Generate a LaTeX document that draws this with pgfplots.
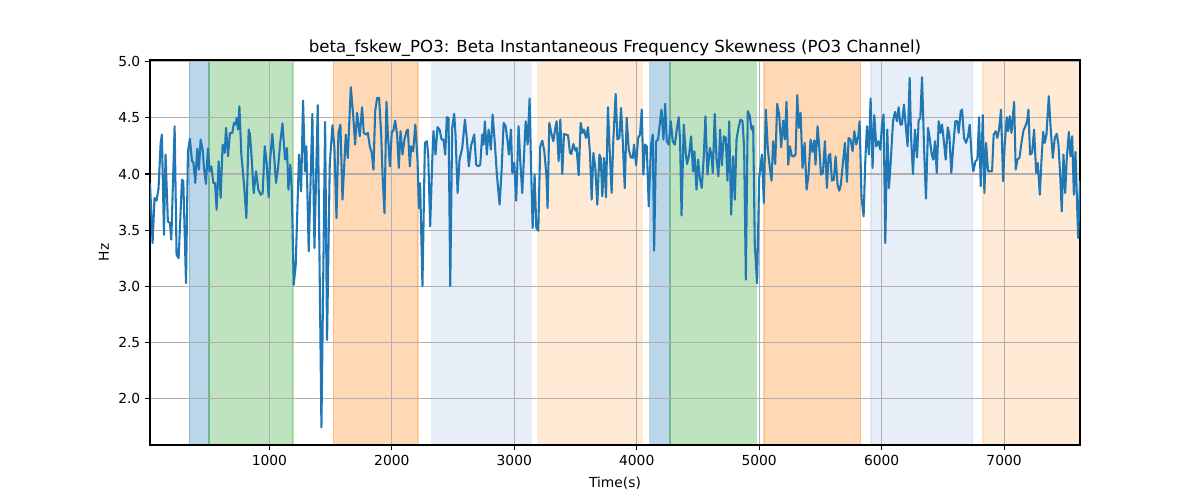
\documentclass[border=0pt]{standalone}
\usepackage{fontspec}
\setmainfont{DejaVu Sans}
\usepackage{pgfplots}
\usepackage{pgfplotstable}
\pgfplotsset{compat=1.18}
\definecolor{tabblue}{HTML}{1F77B4}
\definecolor{tabgreen}{HTML}{2CA02C}
\definecolor{taborange}{HTML}{FF7F0E}
\definecolor{lightblue}{HTML}{AEC7E8}
\definecolor{lightorange}{HTML}{FFBB78}
\definecolor{gridgray}{HTML}{B0B0B0}
\pgfplotstableread{
x y
25 3.92
46 3.384
62 3.786
79 3.762
95 3.875
112 4.277
122 4.351
139 3.458
152 4.173
171 3.577
188 3.563
199 3.414
226 4.426
242 3.280
259 3.25
286 3.949
297 3.935
319 3.027
335 4.202
351 4.315
368 4.113
379 4.107
395 3.92
411 4.226
425 4.039
438 4.307
455 4.217
466 4.054
482 3.911
498 4.226
512 4.024
526 4.068
542 3.92
556 3.92
569 3.682
586 4.113
602 3.786
618 4.262
635 4.188
646 4.411
662 4.158
678 4.366
697 4.366
711 4.455
725 4.44
733 4.5
744 4.396
755 4.604
771 4.173
793 3.905
812 3.607
831 4.396
842 4.351
855 4.143
872 3.830
891 4.024
910 3.86
929 3.815
945 3.83
962 4.247
978 4.098
994 3.792
1005 4.113
1024 4.357
1038 4.173
1054 3.92
1071 4.054
1087 4.262
1107 4.45
1128 4.128
1144 4.232
1155 3.86
1171 4.083
1182 3.875
1199 3.012
1215 3.19
1242 4.173
1259 3.845
1275 4.655
1291 4.024
1302 4.247
1321 3.31
1351 4.536
1368 3.339
1395 4.613
1425 1.74
1455 4.464
1471 2.52
1493 4.083
1515 4.435
1531 4.232
1548 3.607
1564 4.366
1580 4.44
1597 3.771
1624 4.351
1640 4.143
1665 4.774
1684 4.53
1700 4.262
1716 4.545
1738 4.336
1757 4.595
1771 4.366
1787 4.351
1804 4.366
1820 4.247
1836 4.188
1850 4.039
1864 4.56
1880 4.679
1896 4.679
1913 4.351
1924 3.994
1940 3.652
1956 4.643
1967 4.366
1984 4.068
2000 4.381
2011 4.381
2027 4.476
2043 4.351
2057 4.054
2071 4.381
2087 4.173
2103 4.307
2120 4.381
2131 4.396
2147 4.068
2158 4.247
2174 4.202
2192 4.44
2210 4.113
2221 3.696
2231 3.92
2250 3.0
2270 4.277
2286 4.292
2297 4.173
2313 3.533
2330 4.113
2340 4.381
2357 4.173
2373 4.417
2390 4.396
2406 4.307
2422 4.307
2436 4.173
2449 4.506
2463 4.5
2477 3.0
2493 4.411
2509 4.536
2520 4.351
2537 3.830
2553 4.128
2575 4.232
2597 4.485
2613 4.307
2629 4.068
2646 4.247
2673 4.351
2689 4.083
2706 4.068
2722 4.083
2738 4.351
2749 4.262
2760 4.470
2776 4.173
2790 4.396
2809 4.217
2823 4.530
2842 4.262
2858 3.994
2880 3.726
2896 4.024
2913 4.455
2929 4.426
2945 4.292
2956 4.173
2973 4.396
2984 4.009
3000 4.098
3016 3.762
3035 4.426
3049 4.113
3065 3.83
3093 4.470
3109 4.262
3125 4.673
3136 4.113
3150 3.518
3166 3.994
3180 3.518
3196 3.494
3212 4.247
3229 4.298
3245 4.202
3262 3.994
3272 3.696
3286 4.455
3302 4.366
3319 4.292
3335 4.411
3346 4.470
3362 4.113
3376 4.485
3392 4.0
3406 4.357
3422 4.351
3439 4.345
3455 4.188
3466 4.179
3482 4.268
3499 4.208
3509 4.232
3526 3.988
3542 4.455
3558 4.366
3569 4.396
3586 4.321
3602 4.417
3618 4.188
3632 3.771
3646 4.188
3662 4.054
3678 3.726
3695 4.173
3706 4.143
3719 3.801
3733 4.143
3749 3.792
3765 4.595
3776 4.292
3795 3.830
3809 4.307
3828 4.714
3842 4.307
3858 4.321
3872 4.589
3886 4.292
3902 3.875
3918 4.5
3935 4.217
3951 4.149
3967 4.143
3978 4.262
3995 4.077
4011 4.321
4027 4.351
4041 4.574
4054 3.994
4068 4.262
4082 4.247
4098 3.711
4117 4.262
4131 4.351
4142 3.315
4158 4.292
4174 4.307
4191 4.470
4202 4.574
4218 4.307
4232 4.625
4245 4.292
4261 4.262
4278 4.470
4294 4.292
4311 4.262
4327 4.396
4343 4.506
4354 4.292
4366 3.63
4384 4.44
4400 4.188
4411 4.089
4428 4.173
4444 4.336
4460 4.024
4471 4.202
4488 3.860
4501 4.128
4515 3.964
4531 3.875
4547 4.143
4561 4.515
4578 3.994
4597 4.232
4610 4.173
4621 4.009
4637 4.536
4651 4.143
4667 3.979
4681 4.396
4695 4.077
4711 4.336
4727 4.321
4741 3.94
4755 4.470
4771 3.637
4787 4.158
4801 3.771
4815 4.307
4831 4.411
4847 4.485
4864 4.470
4877 4.232
4891 3.057
4907 4.560
4924 4.515
4937 4.396
4951 4.426
4964 3.369
4983 3.027
5000 3.964
5022 4.173
5038 3.741
5054 4.574
5071 4.217
5087 4.054
5101 3.94
5114 4.292
5131 4.089
5147 4.625
5163 4.530
5180 4.238
5196 4.476
5210 4.307
5223 4.643
5237 4.083
5251 4.247
5267 4.158
5283 4.158
5297 4.173
5311 4.702
5324 4.411
5338 4.545
5354 4.054
5371 4.277
5387 3.860
5403 3.994
5420 4.307
5436 4.196
5450 4.30
5460 4.083
5477 4.426
5493 4.202
5504 3.994
5520 4.009
5537 4.292
5553 3.875
5567 4.158
5580 4.179
5594 3.940
5610 3.949
5624 4.158
5640 3.905
5654 3.851
5667 3.905
5684 4.098
5700 4.277
5717 3.929
5730 4.321
5746 4.307
5763 4.202
5777 4.381
5793 4.262
5809 4.336
5820 4.470
5836 3.786
5853 3.622
5866 4.098
5880 4.426
5896 4.173
5910 4.673
5926 4.054
5940 4.524
5956 4.247
5973 4.292
5989 4.217
6003 4.440
6016 4.530
6030 3.384
6046 4.396
6060 3.875
6076 4.143
6093 4.470
6109 4.554
6125 4.470
6139 4.595
6153 4.440
6166 4.440
6182 4.619
6196 4.440
6212 4.247
6229 4.857
6240 4.336
6256 4.0
6272 4.396
6289 4.149
6302 4.476
6316 4.5
6330 4.863
6346 4.247
6362 3.780
6379 4.411
6392 4.321
6409 4.173
6422 4.128
6436 4.292
6450 4.009
6466 4.470
6480 4.366
6493 4.440
6510 4.277
6523 4.128
6540 4.415
6553 4.351
6569 4.009
6586 4.262
6602 4.470
6618 4.470
6629 4.366
6646 4.560
6657 4.574
6673 4.321
6689 4.277
6706 4.336
6719 4.440
6736 4.143
6749 4.024
6766 4.113
6782 4.128
6796 4.506
6809 3.890
6826 4.524
6839 3.830
6853 4.277
6869 4.024
6886 4.024
6902 4.024
6915 4.351
6932 4.381
6945 4.321
6959 4.396
6975 4.574
6992 3.935
7005 4.262
7022 4.506
7033 4.381
7046 4.515
7060 4.366
7082 4.643
7095 4.039
7109 4.128
7125 4.143
7142 4.277
7158 4.387
7174 4.426
7188 4.470
7199 4.574
7212 4.173
7229 4.188
7245 4.396
7262 4.009
7275 4.098
7292 3.815
7305 4.113
7319 4.375
7332 4.277
7346 4.351
7365 4.693
7382 4.381
7398 4.143
7414 4.321
7430 4.357
7444 4.262
7458 3.994
7471 3.667
7485 4.173
7499 3.830
7512 4.143
7529 4.375
7542 4.158
7556 4.336
7570 3.815
7583 4.196
7594 3.810
7605 3.429
7620 3.94
}\fskew
\begin{document}
\begin{tikzpicture}
\begin{axis}[
  set layers, clip mode=individual,
  at={(0,0)}, anchor=south west,
  scale only axis, width=9.3in, height=3.85in,
  xmin=25, xmax=7620, ymin=1.584, ymax=5.016,
  xtick={1000,2000,3000,4000,5000,6000,7000},
  ytick={2,2.5,3,3.5,4,4.5,5},
  /pgf/number format/assume math mode=true,
  scaled x ticks=false,
  xticklabel style={/pgf/number format/1000 sep={}},
  yticklabel style={/pgf/number format/.cd, fixed, fixed zerofill, precision=1},
  grid=major,
  major grid style={color=gridgray, line width=0.8pt},
  tick align=outside, xtick pos=bottom, ytick pos=left,
  major tick length=3.5pt,
  tick style={black, line width=0.8pt},
  axis line style={line width=0.8pt},
  ticklabel style={font=\fontsize{10}{12}\selectfont},
  label style={font=\fontsize{10}{12}\selectfont},
  xlabel style={yshift=-1.5pt},
  title={beta\_fskew\_PO3: Beta Instantaneous Frequency Skewness (PO3 Channel)},
  title style={font=\fontsize{12}{14}\selectfont, yshift=-7pt},
  xlabel={Time(s)}, ylabel={Hz},
  band/.style={on layer=axis background, fill=#1, fill opacity=0.3, draw=#1, draw opacity=0.3, line width=1pt},
]
\addplot[band=tabblue] coordinates {(346,1.584) (346,5.016) (507,5.016) (507,1.584)} -- cycle;
\addplot[band=tabgreen] coordinates {(507,1.584) (507,5.016) (1193,5.016) (1193,1.584)} -- cycle;
\addplot[band=taborange] coordinates {(1523,1.584) (1523,5.016) (2215,5.016) (2215,1.584)} -- cycle;
\addplot[band=lightblue] coordinates {(2325,1.584) (2325,5.016) (3139,5.016) (3139,1.584)} -- cycle;
\addplot[band=lightorange] coordinates {(3190,1.584) (3190,5.016) (4046,5.016) (4046,1.584)} -- cycle;
\addplot[band=tabblue] coordinates {(4106,1.584) (4106,5.016) (4272,5.016) (4272,1.584)} -- cycle;
\addplot[band=tabgreen] coordinates {(4272,1.584) (4272,5.016) (4978,5.016) (4978,1.584)} -- cycle;
\addplot[band=taborange] coordinates {(5038,1.584) (5038,5.016) (5829,5.016) (5829,1.584)} -- cycle;
\addplot[band=lightblue] coordinates {(5913,1.584) (5913,5.016) (6744,5.016) (6744,1.584)} -- cycle;
\addplot[band=lightorange] coordinates {(6828,1.584) (6828,5.016) (7620,5.016) (7620,1.584)} -- cycle;
\addplot[tabblue, line width=1.5pt, line join=round] table[x=x, y=y] {\fskew};
\end{axis}
\path (-1.5in,-0.55in) rectangle (10.5in,4.45in);
\end{tikzpicture}
\end{document}
